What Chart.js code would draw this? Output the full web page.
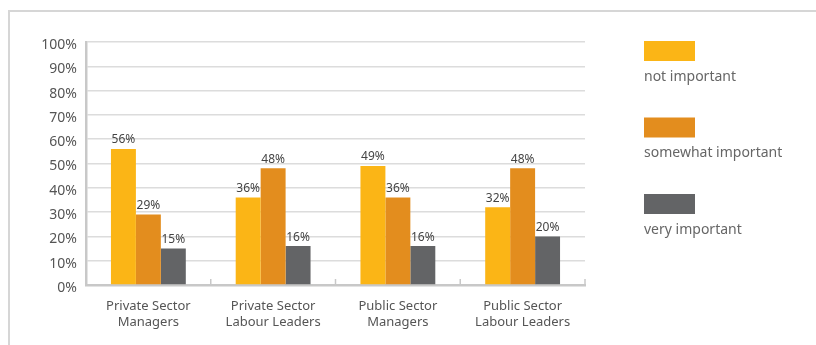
<!DOCTYPE html>
<html>
<head>
<meta charset="utf-8">
<script src="https://cdn.jsdelivr.net/npm/chart.js@4"></script>
<style>
  html, body { margin: 0; padding: 0; background: #fff; }
  #wrap { position: relative; width: 816px; height: 345px; overflow: hidden; }
  #frame { position: absolute; left: 8px; top: 10px; width: 900px; height: 400px;
           border-left: 2px solid #d6d6d6; border-top: 2px solid #d6d6d6; }
  canvas { position: absolute; left: 0; top: 0; }
</style>
</head>
<body>
<div id="wrap">
  <div id="frame"></div>
  <canvas id="c" width="816" height="345"></canvas>
</div>
<script>
const categories = [
  ['Private Sector', 'Managers'],
  ['Private Sector', 'Labour Leaders'],
  ['Public Sector', 'Managers'],
  ['Public Sector', 'Labour Leaders']
];
const notImportant = [56, 36, 49, 32];
const somewhatImportant = [29, 48, 36, 48];
const veryImportant = [15, 16, 16, 20];
const yTicks = [0, 10, 20, 30, 40, 50, 60, 70, 80, 90, 100];

const FONT = '"Noto Sans", "DejaVu Sans", sans-serif';

// Percent labels above each bar
const valueLabels = {
  id: 'valueLabels',
  afterDatasetsDraw(chart) {
    const ctx = chart.ctx;
    ctx.save();
    ctx.font = '12px ' + FONT;
    ctx.fillStyle = '#444';
    ctx.textAlign = 'center';
    ctx.textBaseline = 'bottom';
    chart.data.datasets.forEach((ds, i) => {
      chart.getDatasetMeta(i).data.forEach((bar, j) => {
        ctx.fillText(ds.data[j] + '%', bar.x, bar.y - 3);
      });
    });
    ctx.restore();
  }
};

// Short upward ticks on the category axis between groups
const groupTicks = {
  id: 'groupTicks',
  afterDraw(chart) {
    const x = chart.scales.x;
    const ctx = chart.ctx;
    const n = chart.data.labels.length;
    ctx.save();
    ctx.strokeStyle = '#c8c8c8';
    ctx.lineWidth = 1.5;
    for (let i = 1; i <= n; i++) {
      const px = i < n ? (x.getPixelForValue(i - 1) + x.getPixelForValue(i)) / 2 : x.right;
      ctx.beginPath();
      ctx.moveTo(px, x.top);
      ctx.lineTo(px, x.top - 6);
      ctx.stroke();
    }
    ctx.restore();
  }
};

// Legend on the right: swatch with its label underneath
const sideLegend = {
  id: 'sideLegend',
  afterDraw(chart) {
    const ctx = chart.ctx;
    const left = chart.chartArea.right + 59;
    ctx.save();
    ctx.font = '14px ' + FONT;
    ctx.textBaseline = 'middle';
    chart.data.datasets.forEach((ds, i) => {
      const top = 41 + i * 76.5;
      ctx.fillStyle = ds.backgroundColor;
      ctx.fillRect(left, top, 51, 20);
      ctx.fillStyle = '#666';
      ctx.fillText(ds.label, left, top + 36);
    });
    ctx.restore();
  }
};

new Chart(document.getElementById('c'), {
  type: 'bar',
  data: {
    labels: categories,
    datasets: [
      { label: 'not important', data: notImportant, backgroundColor: '#FBB516' },
      { label: 'somewhat important', data: somewhatImportant, backgroundColor: '#E38D1E' },
      { label: 'very important', data: veryImportant, backgroundColor: '#636466' }
    ]
  },
  options: {
    responsive: false,
    animation: false,
    layout: { padding: { left: 0, right: 231, top: 42, bottom: 0 } },
    datasets: { bar: { categoryPercentage: 0.6, barPercentage: 1.0 } },
    plugins: { legend: { display: false }, tooltip: { enabled: false } },
    scales: {
      x: {
        grid: { display: false },
        border: { color: '#c8c8c8', width: 2.5 },
        ticks: { color: '#555', font: { family: FONT, size: 13, lineHeight: 1.25 }, padding: 5, maxRotation: 0 },
        afterFit(scale) { scale.height = 60; }
      },
      y: {
        min: 0, max: 100,
        afterBuildTicks(scale) { scale.ticks = yTicks.map(v => ({ value: v })); },
        grid: { color: '#dcdcdc', lineWidth: 1.5, drawTicks: false },
        border: { color: '#c8c8c8', width: 2.5 },
        ticks: { color: '#555', font: { family: FONT, size: 14 }, padding: 9, labelOffset: 3,
                 callback: v => v + '%' },
        afterFit(scale) { scale.width = 86; }
      }
    }
  },
  plugins: [valueLabels, groupTicks, sideLegend]
});
</script>
</body>
</html>
